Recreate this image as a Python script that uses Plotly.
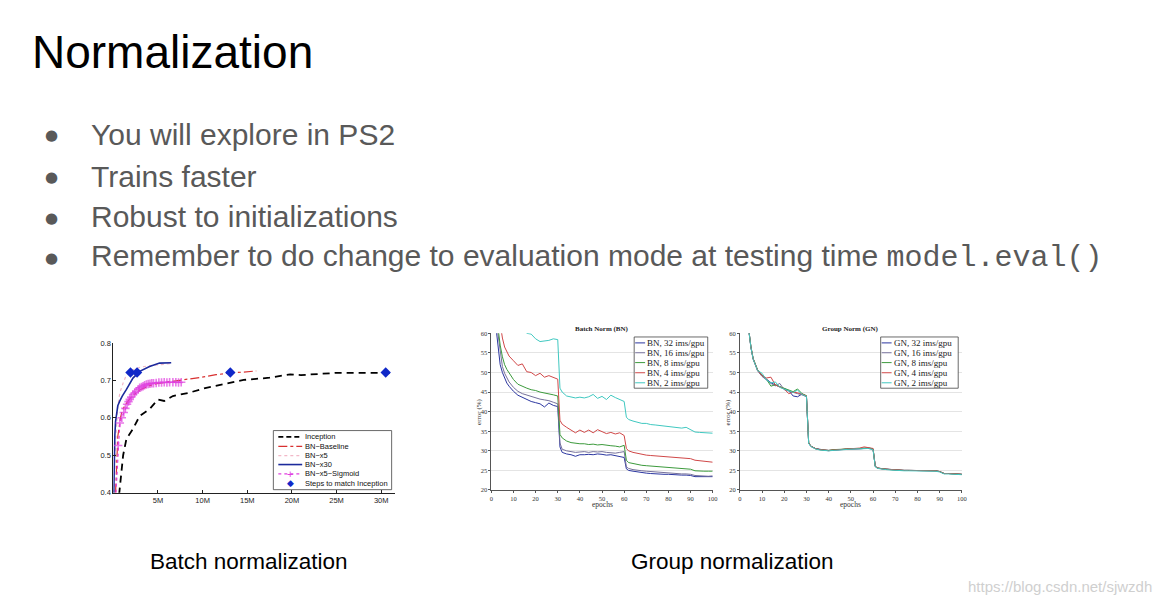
import plotly.graph_objects as go

# ---------------- data: Batch normalization (left chart) ----------------
# x values in millions of training steps, y = validation accuracy
inception_x = [0.65, 1.1, 1.47, 2.2, 2.95, 4.06, 5.0, 5.7, 6.67, 8.5, 10.4, 14.6, 17.5, 19.8, 21.0, 25.0, 28.0, 31.0]
inception_y = [0.395, 0.50, 0.544, 0.57, 0.605, 0.623, 0.649, 0.645, 0.658, 0.667, 0.68, 0.701, 0.707, 0.716, 0.714, 0.72, 0.72, 0.72]

baseline_x = [0.25, 0.5, 0.8, 1.0, 1.5, 2.0, 3.0, 4.0, 5.0, 6.85, 8.15, 9.8, 11.5, 13.2, 14.6, 16.0]
baseline_y = [0.40, 0.55, 0.60, 0.62, 0.64, 0.655, 0.675, 0.685, 0.692, 0.698, 0.702, 0.708, 0.715, 0.72, 0.722, 0.725]

bnx5_x = [0.1, 0.3, 0.5, 0.73, 1.1, 1.47, 2.1, 3.0, 4.0, 5.0, 6.0, 6.6]
bnx5_y = [0.40, 0.55, 0.63, 0.667, 0.693, 0.715, 0.727, 0.735, 0.739, 0.742, 0.744, 0.745]

bnx30_x = [0.05, 0.1, 0.17, 0.25, 0.36, 0.5, 0.73, 1.0, 1.47, 2.2, 2.95, 4.06, 5.18, 6.48]
bnx30_y = [0.395, 0.50, 0.553, 0.59, 0.614, 0.632, 0.645, 0.658, 0.676, 0.706, 0.724, 0.737, 0.746, 0.747]

sigmoid_x = [0.3, 0.54, 0.73, 0.95, 1.17, 1.35, 1.54, 1.7, 1.84, 2.0, 2.2, 2.4, 2.58, 2.78, 2.95, 3.15, 3.33, 3.5,
             3.7, 3.9, 4.1, 4.3, 4.5, 4.8, 5.1, 5.4, 5.7, 6.0, 6.3, 6.67, 7.0, 7.3, 7.6]
sigmoid_y = [0.40, 0.526, 0.586, 0.60, 0.614, 0.625, 0.636, 0.643, 0.649, 0.655, 0.662, 0.667, 0.671, 0.676, 0.68, 0.682,
             0.684, 0.687, 0.689, 0.690, 0.691, 0.692, 0.692, 0.693, 0.694, 0.694, 0.695, 0.694, 0.695, 0.695, 0.695, 0.694, 0.695]

match_x = [1.92, 2.66, 13.1, 30.5]
match_y = [0.721, 0.721, 0.721, 0.721]

bn_tick_vals = [5, 10, 15, 20, 25, 30]
bn_tick_text = ["5M", "10M", "15M", "20M", "25M", "30M"]
bn_y_ticks = [0.4, 0.5, 0.6, 0.7, 0.8]
bn_legend_labels = ["Inception", "BN\u2212Baseline", "BN\u2212x5", "BN\u2212x30", "BN\u2212x5\u2212Sigmoid", "Steps to match Inception"]

# ---------------- data: BN / GN error curves ----------------
epochs = [2, 3, 4, 5, 6, 7, 8, 10, 12, 14, 16, 18, 20, 22, 24, 26, 28, 30, 31, 32, 34, 36, 38, 40, 42, 44, 46, 48,
          50, 52, 54, 56, 58, 60, 61, 62, 64, 66, 68, 70, 72, 74, 76, 78, 80, 82, 84, 86, 88, 90, 92, 94, 96, 98, 100]

bn32 = [62, 56, 52, 50, 48.5, 47.3, 46.5, 45.2, 44.2, 43.6, 43.0, 42.6, 42.3, 42.0, 41.2, 42.2, 41.6, 41.3, 31.0, 29.6,
        29.2, 29.0, 28.6, 29.0, 29.0, 29.1, 29.0, 29.2, 29.1, 28.9, 29.0, 28.8, 28.6, 28.3, 25.4, 25.0, 24.8, 24.6, 24.4,
        24.3, 24.2, 24.1, 24.1, 24.0, 24.0, 23.9, 23.9, 23.8, 23.8, 23.7, 23.4, 23.4, 23.4, 23.3, 23.4]
bn16 = [64, 60, 55, 51.5, 49.8, 48.5, 47.6, 46.2, 45.2, 44.6, 44.2, 43.8, 43.5, 43.2, 43.0, 42.8, 42.4, 42.0, 32.0, 30.4,
        30.0, 29.8, 29.6, 29.7, 29.8, 29.6, 29.8, 29.7, 29.8, 29.6, 29.5, 29.4, 29.6, 29.8, 25.9, 25.5, 25.2, 25.0, 24.9,
        24.8, 24.7, 24.6, 24.5, 24.4, 24.3, 24.3, 24.2, 24.1, 24.1, 24.0, 23.7, 23.6, 23.6, 23.5, 23.6]
bn8 = [66, 61, 57, 54, 52, 50.8, 50.0, 48.2, 47.0, 46.4, 46.0, 45.6, 45.4, 45.0, 44.8, 44.6, 44.3, 44.0, 34.2, 33.3,
       32.5, 32.1, 31.9, 31.8, 31.8, 31.6, 31.7, 31.5, 31.6, 31.4, 31.3, 31.2, 31.0, 31.4, 27.6, 27.0, 26.7, 26.5, 26.3,
       26.2, 26.1, 26.0, 25.9, 25.8, 25.8, 25.7, 25.6, 25.5, 25.4, 25.3, 24.9, 24.8, 24.8, 24.8, 24.8]
bn4 = [70, 66, 62, 58.8, 56.5, 55.2, 54.2, 53.0, 51.8, 52.2, 50.2, 50.0, 49.2, 49.8, 48.8, 49.2, 48.7, 48.3, 37.8, 36.8,
       36.0, 35.3, 34.6, 35.3, 34.7, 35.3, 34.6, 35.4, 34.8, 34.4, 34.7, 34.3, 34.6, 33.9, 30.6, 30.0, 29.6, 29.3, 29.0,
       28.9, 28.8, 28.7, 28.6, 28.5, 28.5, 28.4, 28.3, 28.2, 28.1, 28.0, 27.6, 27.5, 27.4, 27.2, 27.1]
bn2 = [80, 78, 76, 74, 72, 70, 68, 65, 63, 61.5, 60.0, 59.8, 58.6, 57.9, 58.0, 58.2, 58.6, 58.4, 46.0, 45.0,
       44.0, 43.8, 43.5, 43.7, 43.5, 43.8, 44.4, 43.4, 43.9, 43.1, 44.2, 43.6, 43.2, 42.6, 38.6, 38.0, 37.6, 37.3, 37.0,
       37.0, 36.7, 36.6, 36.5, 36.4, 36.2, 36.1, 36.0, 35.8, 36.0, 35.4, 34.8, 34.7, 34.6, 34.5, 34.5]

gn32 = [70, 65, 60, 56.5, 53.5, 51.8, 50.6, 49.2, 48.2, 47.4, 46.8, 46.3, 45.8, 45.4, 44.0, 43.8, 44.5, 44.0, 32.0, 31.2,
        30.6, 30.3, 30.2, 30.1, 30.2, 30.3, 30.4, 30.4, 30.5, 30.5, 30.6, 30.6, 30.6, 30.4, 26.0, 25.6, 25.4, 25.3, 25.2,
        25.1, 25.1, 25.0, 25.0, 25.0, 24.9, 24.9, 24.9, 24.9, 24.9, 24.7, 24.2, 24.2, 24.1, 24.0, 24.0]
gn16 = [70, 65, 60, 56.3, 53.4, 51.6, 50.4, 49.0, 48.0, 47.2, 46.6, 47.2, 45.6, 45.2, 44.8, 44.6, 44.3, 43.8, 31.9, 31.1,
        30.5, 30.3, 30.1, 30.0, 30.2, 30.2, 30.3, 30.4, 30.4, 30.5, 30.5, 30.6, 30.7, 30.5, 26.0, 25.6, 25.4, 25.3, 25.2,
        25.1, 25.1, 25.0, 25.0, 25.0, 24.9, 24.9, 24.9, 24.9, 24.9, 24.7, 24.2, 24.2, 24.1, 24.0, 24.0]
gn8 = [70, 65, 60, 56.6, 53.6, 51.9, 50.7, 49.3, 48.3, 46.5, 46.9, 46.4, 45.9, 45.5, 45.1, 45.8, 44.6, 44.1, 32.1, 31.2,
       30.6, 30.3, 30.2, 30.1, 30.3, 30.3, 30.4, 30.5, 30.5, 30.6, 30.6, 30.7, 30.7, 30.5, 26.0, 25.6, 25.4, 25.3, 25.2,
       25.1, 25.1, 25.0, 25.0, 25.0, 24.9, 24.9, 24.9, 24.9, 24.9, 24.7, 24.2, 24.2, 24.1, 24.0, 24.0]
gn4 = [70, 65, 60, 56.5, 53.5, 51.8, 50.6, 49.2, 48.6, 48.8, 46.8, 46.3, 45.8, 44.6, 45.0, 44.8, 44.5, 44.0, 32.0, 31.2,
       30.6, 30.3, 30.2, 30.1, 30.2, 30.3, 30.4, 30.5, 30.5, 30.6, 30.7, 31.0, 30.8, 30.6, 26.1, 25.6, 25.4, 25.3, 25.2,
       25.1, 25.1, 25.0, 25.0, 25.0, 24.9, 24.9, 24.9, 24.9, 24.9, 24.7, 24.2, 24.2, 24.1, 24.0, 24.0]
gn2 = [70, 65, 60, 56.4, 53.4, 51.7, 50.5, 49.8, 48.1, 47.3, 47.6, 46.2, 45.7, 45.3, 44.9, 45.5, 44.4, 43.9, 31.9, 31.1,
       30.5, 30.2, 30.1, 30.0, 30.1, 30.2, 30.3, 30.4, 30.4, 30.5, 30.5, 30.6, 30.6, 30.3, 25.9, 25.5, 25.3, 25.2, 25.1,
       25.0, 25.0, 24.9, 24.9, 24.9, 24.9, 24.8, 24.8, 24.8, 24.8, 24.6, 24.1, 24.1, 24.0, 23.9, 23.9]

bn_names = ["BN, 32 ims/gpu", "BN, 16 ims/gpu", "BN, 8 ims/gpu", "BN, 4 ims/gpu", "BN, 2 ims/gpu"]
gn_names = ["GN, 32 ims/gpu", "GN, 16 ims/gpu", "GN, 8 ims/gpu", "GN, 4 ims/gpu", "GN, 2 ims/gpu"]
epoch_ticks = [0, 10, 20, 30, 40, 50, 60, 70, 80, 90, 100]
error_ticks = [20, 25, 30, 35, 40, 45, 50, 55, 60]

# ---------------- slide text ----------------
title_text = "Normalization"
bullets = ["You will explore in PS2", "Trains faster", "Robust to initializations",
           "Remember to do change to evaluation mode at testing time "]
code_text = "model.eval()"
captions = ["Batch normalization", "Group normalization"]
watermark = "https://blog.csdn.net/sjwzdh"

# ---------------- styles ----------------
W, H = 1163, 606
def px(x):
    return x / W
def py(y):
    return 1 - y / H

SANS = "Arial, Liberation Sans, sans-serif"
SERIF = "Times New Roman, Liberation Serif, serif"
GRAY = "#595959"

series_colors = ["#2b36a0", "#75709a", "#3c9a3c", "#d04848", "#40c8c0"]

fig = go.Figure()

# left chart traces
fig.add_trace(go.Scatter(x=inception_x, y=inception_y, mode="lines", line=dict(color="black", width=1.8, dash="7px,5px"),
                         xaxis="x", yaxis="y", showlegend=False))
fig.add_trace(go.Scatter(x=baseline_x, y=baseline_y, mode="lines", line=dict(color="#d83030", width=1.2, dash="dashdot"),
                         xaxis="x", yaxis="y", showlegend=False))
fig.add_trace(go.Scatter(x=bnx5_x, y=bnx5_y, mode="lines", line=dict(color="#f2b8c8", width=1.2, dash="dot"),
                         xaxis="x", yaxis="y", showlegend=False))
fig.add_trace(go.Scatter(x=bnx30_x, y=bnx30_y, mode="lines", line=dict(color="#1c2a9c", width=1.6),
                         xaxis="x", yaxis="y", showlegend=False))
fig.add_trace(go.Scatter(x=sigmoid_x, y=sigmoid_y, mode="lines+markers",
                         line=dict(color="#e040e0", width=1.2, dash="dot"),
                         marker=dict(symbol="cross-thin", size=[0] + [6] * (len(sigmoid_x) - 1),
                                     line=dict(color="#e040e0", width=1.6)),
                         xaxis="x", yaxis="y", showlegend=False))
fig.add_trace(go.Scatter(x=match_x, y=match_y, mode="markers",
                         marker=dict(symbol="diamond", size=8, color="#1028c8"),
                         xaxis="x", yaxis="y", showlegend=False))

# BN chart traces
for vals, name, col in zip([bn32, bn16, bn8, bn4, bn2], bn_names, series_colors):
    fig.add_trace(go.Scatter(x=epochs, y=vals, name=name, mode="lines", line=dict(color=col, width=1),
                             xaxis="x2", yaxis="y2", showlegend=False))
# GN chart traces
for vals, name, col in zip([gn32, gn16, gn8, gn4, gn2], gn_names, series_colors):
    fig.add_trace(go.Scatter(x=epochs, y=vals, name=name, mode="lines", line=dict(color=col, width=1),
                             xaxis="x3", yaxis="y3", showlegend=False))

annotations = []
shapes = []

# slide title and bullets
annotations.append(dict(text=title_text, x=px(28), y=py(49), xref="paper", yref="paper", xanchor="left",
                        yanchor="middle", showarrow=False, font=dict(family=SANS, size=46, color="black")))
bullet_y = [132, 175, 216, 257]
for i, (b, yy) in enumerate(zip(bullets, bullet_y)):
    txt = b
    if i == len(bullets) - 1:
        txt = b + "<span style='font-family:Courier New, Liberation Mono, monospace'>" + code_text + "</span>"
    annotations.append(dict(text=txt, x=px(88), y=py(yy), xref="paper", yref="paper", xanchor="left",
                            yanchor="middle", showarrow=False, font=dict(family=SANS, size=30, color=GRAY)))
    annotations.append(dict(text="\u25cf", x=px(50), y=py(yy + 1), xref="paper", yref="paper", xanchor="center",
                            yanchor="middle", showarrow=False, font=dict(family="DejaVu Sans", size=15, color=GRAY)))

# captions
for cap, cx in zip(captions, [248, 735]):
    annotations.append(dict(text=cap, x=px(cx), y=py(566), xref="paper", yref="paper", xanchor="center",
                            yanchor="middle", showarrow=False, font=dict(family=SANS, size=22.5, color="black")))
annotations.append(dict(text=watermark, x=px(1159), y=py(591), xref="paper", yref="paper", xanchor="right",
                        yanchor="middle", showarrow=False, font=dict(family=SANS, size=15, color="#cfcfcf")))

# chart titles / axis labels for BN & GN
for t, cx in zip(["<b>Batch Norm (BN)</b>", "<b>Group Norm (GN)</b>"], [604, 854]):
    annotations.append(dict(text=t, x=px(cx), y=py(329.5), xref="paper", yref="paper", xanchor="center",
                            yanchor="middle", showarrow=False, font=dict(family=SERIF, size=7, color="#222")))
for cx in [604, 854]:
    annotations.append(dict(text="epochs", x=px(cx), y=py(508), xref="paper", yref="paper", xanchor="center",
                            yanchor="middle", showarrow=False, font=dict(family=SERIF, size=7.5, color="#333")))
for cx in [480, 730]:
    annotations.append(dict(text="error (%)", x=px(cx), y=py(414), xref="paper", yref="paper", xanchor="center",
                            yanchor="middle", textangle=-90, showarrow=False,
                            font=dict(family=SERIF, size=7, color="#333")))

# ---------- legends (drawn as layout decorations) ----------
def legend_box(x0, y0, x1, y1):
    shapes.append(dict(type="rect", xref="paper", yref="paper", x0=px(x0), x1=px(x1), y0=py(y1), y1=py(y0),
                       line=dict(color="#444", width=0.8), fillcolor="white", layer="above"))

def legend_line(x0, x1, y, color, width, dash):
    shapes.append(dict(type="line", xref="paper", yref="paper", x0=px(x0), x1=px(x1), y0=py(y), y1=py(y),
                       line=dict(color=color, width=width, dash=dash), layer="above"))

def legend_text(x, y, text, family, size, color="#222"):
    annotations.append(dict(text=text, x=px(x), y=py(y), xref="paper", yref="paper", xanchor="left",
                            yanchor="middle", showarrow=False, font=dict(family=family, size=size, color=color)))

# left chart legend
legend_box(273, 433, 392, 493)
rows1 = [439.5, 449, 458.5, 467.5, 477, 486.5]
leg1_styles = [("black", 1.8, "5px,3px"), ("#d83030", 1.2, "dashdot"), ("#f2b8c8", 1.2, "dot"),
               ("#1c2a9c", 1.6, "solid"), ("#e040e0", 1.2, "dot"), None]
for lab, st, yy in zip(bn_legend_labels, leg1_styles, rows1):
    if st is not None:
        legend_line(278, 302, yy, st[0], st[1], st[2])
    legend_text(302.5, yy, lab, SANS, 7.5, "#111")
annotations.append(dict(text="+", x=px(290), y=py(477), xref="paper", yref="paper", xanchor="center",
                        yanchor="middle", showarrow=False, font=dict(family=SANS, size=11, color="#e040e0")))
annotations.append(dict(text="\u25c6", x=px(290), y=py(486.5), xref="paper", yref="paper", xanchor="center",
                        yanchor="middle", showarrow=False, font=dict(family="DejaVu Sans", size=9, color="#1028c8")))

# BN / GN legends
rows2 = [344, 354, 364, 374.3, 384.5]
for (bx0, bx1), names in zip([(636, 710), (884, 962)], [bn_names, gn_names]):
    legend_box(bx0, 338, bx1, 390)
    for name, col, yy in zip(names, series_colors, rows2):
        legend_line(bx0 + 1, bx0 + 11, yy, col, 1, "solid")
        legend_text(bx0 + 11, yy, name, SERIF, 9)

# ---------------- axes ----------------
axis_common_1 = dict(showline=True, linecolor="#222", linewidth=1, ticks="inside", ticklen=3, tickcolor="#222",
                     showgrid=False, zeroline=False, tickfont=dict(family=SANS, size=7.5, color="#222"))
axis_common_2 = dict(showline=True, linecolor="#555", linewidth=0.8, ticks="outside", ticklen=2, tickcolor="#555",
                     zeroline=False, tickfont=dict(family=SERIF, size=6.5, color="#333"))

fig.update_layout(
    width=W, height=H, margin=dict(l=0, r=0, t=0, b=0),
    paper_bgcolor="white", plot_bgcolor="white", showlegend=False,
    xaxis=dict(domain=[px(112), px(395)], range=[0, 31.5], tickvals=bn_tick_vals, ticktext=bn_tick_text,
               anchor="y", **axis_common_1),
    yaxis=dict(domain=[py(496), py(344)], range=[0.4, 0.8], tickvals=bn_y_ticks,
               ticktext=["0.4", "0.5", "0.6", "0.7", "0.8"], anchor="x", **axis_common_1),
    xaxis2=dict(domain=[px(492.3), px(715)], range=[0, 100], tickvals=epoch_ticks, anchor="y2",
                showgrid=False, **axis_common_2),
    yaxis2=dict(domain=[py(493.3), py(334.3)], range=[20, 60], tickvals=error_ticks, anchor="x2",
                showgrid=True, gridcolor="#e4e4e4", gridwidth=0.8, **axis_common_2),
    xaxis3=dict(domain=[px(742.3), px(965.7)], range=[0, 100], tickvals=epoch_ticks, anchor="y3",
                showgrid=False, **axis_common_2),
    yaxis3=dict(domain=[py(493.3), py(334.3)], range=[20, 60], tickvals=error_ticks, anchor="x3",
                showgrid=True, gridcolor="#e4e4e4", gridwidth=0.8, **axis_common_2),
    annotations=annotations, shapes=shapes,
)

fig.write_html(
    "out.html",
    config={"displayModeBar": False},
    post_script=("document.documentElement.style.margin='0px';document.documentElement.style.padding='0px';"
                 "document.documentElement.style.overflow='hidden';"
                 "document.body.style.margin='0px';document.body.style.padding='0px';"
                 "document.body.style.overflow='hidden';"),
)
